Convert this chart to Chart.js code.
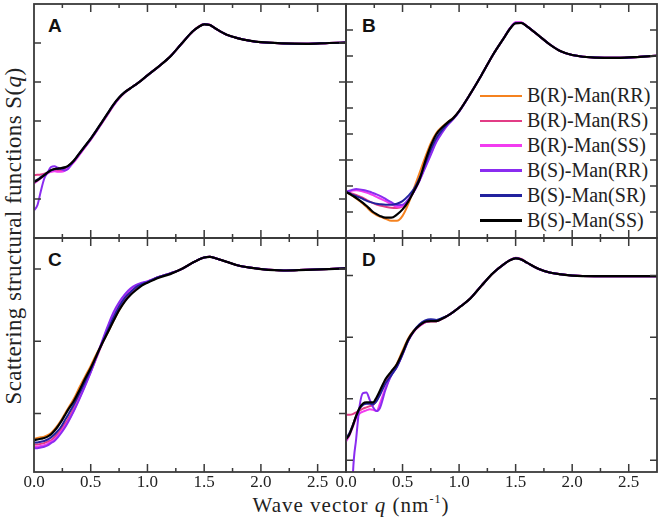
<!DOCTYPE html>
<html>
<head>
<meta charset="utf-8">
<script src="https://cdn.jsdelivr.net/npm/chart.js@4"></script>
<style>
  html, body { margin: 0; padding: 0; background: #fff; overflow: hidden; }
  body { width: 661px; height: 518px; position: relative; font-family: "Liberation Serif", "Times New Roman", serif; color: #222; }
  canvas { position: absolute; }
  .tag { position: absolute; font: bold 19px "Liberation Sans", Arial, sans-serif; line-height: 1; color: #111; }
  #ytitle { position: absolute; left: 12.5px; top: 236px; transform: translate(-50%, -50%) rotate(-90deg);
            white-space: nowrap; font-size: 23px; line-height: 1; letter-spacing: 0.4px; }
  #xtitle { position: absolute; left: 351px; top: 495px; transform: translateX(-50%);
            white-space: nowrap; font-size: 21px; line-height: 1; letter-spacing: 1px; }
  #xtitle sup { font-size: 12px; vertical-align: 0; position: relative; top: -9px; }
  #legend { position: absolute; left: 480px; top: 83.5px; }
  .row { display: flex; align-items: center; height: 24.9px; font-size: 20px; white-space: nowrap; }
  .row span.ln { display: inline-block; width: 42px; height: 2.5px; margin-right: 5px; }
</style>
</head>
<body>
<div class="tag" style="left:48px; top:15.5px">A</div>
<div class="tag" style="left:362px; top:15.5px">B</div>
<div class="tag" style="left:48px; top:250px">C</div>
<div class="tag" style="left:362px; top:250px">D</div>
<div id="ytitle">Scattering structural functions S(<i>q</i>)</div>
<div id="xtitle">Wave vector <i>q</i> (nm<sup>-1</sup>)</div>
<div id="legend"></div>

<script>
// wave vector grid (nm^-1)
var qGrid = [0, 0.03, 0.06, 0.09, 0.12, 0.15, 0.18, 0.21, 0.24, 0.27, 0.30,
  0.35, 0.40, 0.45, 0.50, 0.55, 0.60, 0.65, 0.70, 0.75, 0.80, 0.85, 0.90, 0.95, 1.00,
  1.10, 1.20, 1.30, 1.40, 1.45, 1.50, 1.55, 1.60, 1.70, 1.80, 1.90, 2.00, 2.20, 2.40, 2.60, 2.75];

var nomiSerie = ["B(R)-Man(RR)", "B(R)-Man(RS)", "B(R)-Man(SS)", "B(S)-Man(RR)", "B(S)-Man(SR)", "B(S)-Man(SS)"];
var coloriSerie = ["#f5821f", "#e23c86", "#f23cf0", "#8a2cf0", "#22229e", "#000000"];

// panel A
var A_rRR = [1.44,1.49,1.55,1.62,1.68,1.73,1.76,1.77,1.78,1.80,1.84, 1.97,2.16,2.35,2.54,2.75,2.97,3.19,3.41,3.59,3.73,3.84,3.94,4.05,4.17, 4.40,4.65,4.98,5.30, 5.41,5.48,5.46,5.37, 5.21,5.12,5.06,5.02, 4.99,4.98,5.00,5.01];
var A_rRS = [1.61,1.62,1.63,1.65,1.68,1.71,1.72,1.73,1.74,1.76,1.81, 1.95,2.14,2.33,2.52,2.73,2.95,3.17,3.39,3.58,3.73,3.84,3.94,4.05,4.17, 4.40,4.65,4.98,5.30, 5.42,5.49,5.47,5.37, 5.21,5.12,5.06,5.02, 4.99,4.98,5.00,5.01];
var A_rSS = [1.40,1.46,1.53,1.60,1.66,1.70,1.71,1.70,1.70,1.72,1.79, 1.94,2.13,2.33,2.53,2.74,2.96,3.18,3.40,3.59,3.73,3.84,3.94,4.05,4.17, 4.40,4.65,4.98,5.30, 5.41,5.48,5.46,5.37, 5.21,5.12,5.06,5.02, 4.99,4.98,5.00,5.01];
var A_sRR = [0.71,0.84,1.20,1.52,1.68,1.82,1.84,1.80,1.77,1.73,1.77, 1.97,2.15,2.34,2.53,2.74,2.96,3.18,3.40,3.59,3.73,3.84,3.94,4.05,4.17, 4.40,4.65,4.98,5.30, 5.41,5.48,5.46,5.37, 5.21,5.12,5.06,5.02, 4.99,4.98,5.00,5.01];
var A_sSR = [1.45,1.50,1.56,1.62,1.68,1.73,1.76,1.77,1.78,1.80,1.84, 1.97,2.17,2.36,2.55,2.76,2.98,3.20,3.42,3.60,3.74,3.84,3.94,4.05,4.17, 4.40,4.65,4.98,5.30, 5.41,5.48,5.46,5.37, 5.21,5.12,5.06,5.02, 4.99,4.98,5.00,5.01];
var A_sSS = [1.43,1.48,1.54,1.61,1.68,1.74,1.77,1.78,1.79,1.81,1.85, 1.98,2.17,2.36,2.55,2.76,2.98,3.20,3.42,3.60,3.74,3.84,3.94,4.05,4.17, 4.40,4.65,4.98,5.30, 5.41,5.48,5.46,5.37, 5.21,5.12,5.06,5.02, 4.99,4.98,5.00,5.01];

// panel B
var B_rRR = [1.77,1.70,1.62,1.52,1.42,1.32,1.20,1.07,0.96,0.88,0.82, 0.74,0.66,0.66,0.85,1.30,1.90,2.50,3.10,3.65,4.05,4.28,4.46,4.63,4.88, 5.55,6.28,7.05,7.72, 8.05,8.26,8.27,8.14, 7.80,7.45,7.18,7.04, 6.94,6.93,6.97,7.01];
var B_rRS = [1.77,1.74,1.70,1.66,1.60,1.54,1.47,1.40,1.34,1.29,1.25, 1.20,1.16,1.15,1.22,1.45,1.80,2.25,2.80,3.35,3.85,4.15,4.40,4.60,4.88, 5.55,6.28,7.05,7.72, 8.06,8.28,8.29,8.14, 7.80,7.45,7.18,7.04, 6.94,6.93,6.97,7.01];
var B_rSS = [1.77,1.80,1.83,1.84,1.82,1.79,1.75,1.70,1.65,1.58,1.52, 1.42,1.30,1.20,1.22,1.45,1.78,2.22,2.75,3.25,3.75,4.08,4.36,4.58,4.86, 5.55,6.28,7.05,7.72, 8.07,8.30,8.30,8.15, 7.80,7.45,7.18,7.04, 6.94,6.93,6.97,7.01];
var B_sRR = [1.77,1.82,1.86,1.88,1.87,1.85,1.82,1.78,1.73,1.68,1.62, 1.50,1.38,1.27,1.28,1.48,1.78,2.20,2.70,3.20,3.70,4.05,4.35,4.58,4.86, 5.55,6.28,7.05,7.72, 8.06,8.28,8.28,8.14, 7.80,7.45,7.18,7.04, 6.94,6.93,6.97,7.01];
var B_sSR = [1.77,1.72,1.66,1.61,1.56,1.50,1.44,1.39,1.35,1.32,1.30, 1.28,1.28,1.32,1.42,1.62,1.88,2.30,2.85,3.40,3.85,4.15,4.40,4.60,4.87, 5.55,6.28,7.05,7.72, 8.05,8.26,8.27,8.14, 7.80,7.45,7.18,7.04, 6.94,6.93,6.97,7.01];
var B_sSS = [1.77,1.70,1.62,1.54,1.45,1.35,1.24,1.12,1.00,0.92,0.85, 0.78,0.78,0.90,1.10,1.40,1.80,2.25,2.95,3.55,4.00,4.25,4.45,4.62,4.88, 5.55,6.28,7.05,7.72, 8.05,8.26,8.27,8.14, 7.80,7.45,7.18,7.04, 6.94,6.93,6.97,7.01];

// panel C
var C_rRR = [0.65,0.66,0.67,0.68,0.70,0.73,0.78,0.84,0.91,0.99,1.07, 1.20,1.36,1.51,1.66,1.82,1.97,2.12,2.28,2.43,2.56,2.66,2.73,2.78,2.82, 2.89,2.94,3.00,3.09, 3.13,3.16,3.17,3.15, 3.10,3.05,3.02,3.00, 2.98,2.99,3.00,3.01];
var C_rRS = [0.57,0.57,0.58,0.59,0.61,0.63,0.67,0.72,0.78,0.85,0.92, 1.07,1.24,1.41,1.58,1.77,1.96,2.14,2.31,2.46,2.58,2.67,2.74,2.79,2.82, 2.89,2.94,3.00,3.09, 3.13,3.16,3.17,3.15, 3.10,3.05,3.02,3.00, 2.98,2.99,3.00,3.01];
var C_rSS = [0.54,0.54,0.55,0.56,0.58,0.61,0.64,0.69,0.75,0.82,0.89, 1.04,1.21,1.39,1.58,1.78,1.99,2.19,2.38,2.52,2.63,2.71,2.77,2.80,2.83, 2.89,2.94,3.00,3.09, 3.13,3.16,3.17,3.15, 3.10,3.05,3.02,3.00, 2.98,2.99,3.00,3.01];
var C_sRR = [0.52,0.52,0.53,0.54,0.56,0.59,0.62,0.67,0.73,0.80,0.88, 1.03,1.20,1.38,1.57,1.78,2.00,2.21,2.40,2.54,2.65,2.73,2.78,2.81,2.83, 2.89,2.94,3.00,3.09, 3.13,3.16,3.17,3.15, 3.10,3.05,3.02,3.00, 2.98,2.99,3.00,3.01];
var C_sSR = [0.60,0.60,0.61,0.62,0.64,0.67,0.71,0.76,0.82,0.90,0.98, 1.12,1.28,1.44,1.61,1.79,1.97,2.15,2.33,2.48,2.60,2.68,2.75,2.79,2.82, 2.89,2.94,3.00,3.09, 3.13,3.16,3.17,3.15, 3.10,3.05,3.02,3.00, 2.98,2.99,3.00,3.01];
var C_sSS = [0.63,0.64,0.65,0.66,0.68,0.71,0.76,0.82,0.89,0.97,1.05, 1.17,1.32,1.48,1.63,1.80,1.97,2.12,2.28,2.43,2.55,2.64,2.71,2.77,2.81, 2.88,2.93,3.00,3.09, 3.13,3.16,3.17,3.15, 3.10,3.05,3.02,3.00, 2.98,2.99,3.00,3.01];

// panel D
var D_rRR = [1.35,1.43,1.57,1.72,1.84,1.91,1.93,1.93,1.93,2.00,2.11, 2.30,2.43,2.57,2.78,2.98,3.11,3.19,3.24,3.26,3.26,3.30,3.35,3.41,3.48, 3.63,3.84,4.04,4.19, 4.25,4.28,4.26,4.21, 4.11,4.05,4.02,4.00, 3.99,3.99,3.99,3.99];
var D_rRS = [1.74,1.74,1.75,1.78,1.81,1.84,1.86,1.88,1.90,1.97,2.08, 2.28,2.42,2.55,2.74,2.95,3.09,3.18,3.24,3.26,3.26,3.30,3.35,3.41,3.48, 3.63,3.84,4.04,4.19, 4.25,4.29,4.27,4.21, 4.11,4.05,4.02,4.00, 3.99,3.99,3.99,3.99];
var D_rSS = [1.30,1.40,1.54,1.68,1.76,1.79,1.81,1.83,1.82,1.80,1.92, 2.18,2.38,2.52,2.72,2.94,3.09,3.18,3.24,3.26,3.26,3.30,3.35,3.41,3.48, 3.63,3.84,4.04,4.19, 4.25,4.28,4.26,4.21, 4.11,4.05,4.02,4.00, 3.99,3.99,3.99,3.99];
var D_sRR = [-3.00,-1.40,0.72,1.35,1.88,2.09,2.10,1.98,1.86,1.80,1.85, 2.15,2.38,2.52,2.73,2.95,3.10,3.20,3.26,3.28,3.27,3.30,3.35,3.41,3.48, 3.63,3.84,4.04,4.19, 4.25,4.28,4.26,4.21, 4.11,4.05,4.02,4.00, 3.99,3.99,3.99,3.99];
var D_sSR = [1.36,1.44,1.57,1.72,1.84,1.90,1.92,1.92,1.91,1.96,2.06, 2.25,2.38,2.52,2.72,2.94,3.10,3.21,3.27,3.29,3.28,3.31,3.35,3.41,3.48, 3.63,3.84,4.04,4.19, 4.25,4.28,4.26,4.21, 4.11,4.05,4.02,4.00, 3.99,3.99,3.99,3.99];
var D_sSS = [1.34,1.42,1.56,1.72,1.85,1.92,1.94,1.94,1.94,2.02,2.13, 2.32,2.44,2.56,2.75,2.96,3.10,3.19,3.25,3.26,3.26,3.30,3.35,3.41,3.48, 3.63,3.84,4.04,4.19, 4.25,4.28,4.26,4.21, 4.11,4.05,4.02,4.00, 3.99,3.99,3.99,3.99];

// x tick marks and per-panel y tick marks
var xTacche = [0.25, 0.5, 0.75, 1.0, 1.25, 1.5, 1.75, 2.0, 2.25, 2.5];
var yTaccheA = [1, 2, 3, 4, 5];
var yTaccheB = [1, 2, 3, 4, 5, 6, 7, 8];
var yTaccheC = [1, 2, 3];
var yTaccheD = [1, 2, 3, 4];

// draws the box and the inward ticks
var cornice = {
    id: 'cornice',
    afterDatasetsDraw(chart, args, opts) {
        const ctx = chart.ctx;
        const a = chart.chartArea;
        const sx = chart.scales.x, sy = chart.scales.y;
        ctx.save();
        ctx.strokeStyle = "#3a3a3a";
        ctx.lineWidth = 1.5;
        ctx.beginPath();
        xTacche.forEach(v => {
            const px = sx.getPixelForValue(v);
            const len = (Math.round(v * 100) % 50 === 0) ? 8 : 4;
            ctx.moveTo(px, a.bottom); ctx.lineTo(px, a.bottom - len);
            ctx.moveTo(px, a.top); ctx.lineTo(px, a.top + len);
        });
        opts.yTicks.forEach(v => {
            const py = sy.getPixelForValue(v);
            ctx.moveTo(a.left, py); ctx.lineTo(a.left + 7, py);
            ctx.moveTo(a.right, py); ctx.lineTo(a.right - 7, py);
        });
        ctx.stroke();
        ctx.lineWidth = 1.8;
        ctx.strokeRect(a.left, a.top, a.right - a.left, a.bottom - a.top);
        ctx.restore();
    }
};

function creaPannello(plot, serie, yMin, yMax, yTicks, conAsse){
    const padL = 24, padR = 20, padT = 6;
    const asseH = 37;
    const canvas = document.createElement("canvas");
    const w = plot.right - plot.left + padL + padR;
    const h = Math.round(plot.bottom - plot.top + padT + (conAsse ? asseH : 6));
    canvas.width = w;
    canvas.height = h;
    canvas.style.left = (plot.left - padL) + "px";
    canvas.style.top = (plot.top - padT) + "px";
    canvas.style.width = w + "px";
    canvas.style.height = h + "px";
    document.body.appendChild(canvas);

    const datasets = serie.map((valori, i) => ({
        label: nomiSerie[i],
        data: qGrid.map((q, k) => ({x: q, y: valori[k]})),
        borderColor: coloriSerie[i],
        borderWidth: i === 5 ? 2.2 : 2,
        pointRadius: 0,
        fill: false,
        cubicInterpolationMode: 'monotone',
        order: 5 - i
    }));

    const asseX = {
        type: 'linear',
        min: 0,
        max: 2.75,
        display: conAsse,
        grid: { display: false, drawTicks: false },
        border: { display: false },
        ticks: {
            stepSize: 0.5,
            includeBounds: false,
            autoSkip: false,
            maxRotation: 0,
            padding: 0,
            color: "#222",
            font: { family: "'Liberation Serif', 'Times New Roman', serif", size: 17 },
            callback: v => v.toFixed(1)
        }
    };
    if (conAsse){
        asseX.afterFit = s => { s.height = asseH; };
    }

    return new Chart(canvas.getContext("2d"), {
        type: 'line',
        data: { datasets: datasets },
        options: {
            responsive: false,
            animation: false,
            devicePixelRatio: 1,
            layout: { padding: { left: padL, right: padR, top: padT, bottom: conAsse ? 0 : 6 } },
            plugins: {
                legend: { display: false },
                tooltip: { enabled: false },
                cornice: { yTicks: yTicks }
            },
            scales: {
                x: asseX,
                y: {
                    type: 'linear',
                    min: yMin,
                    max: yMax,
                    display: false
                }
            }
        },
        plugins: [cornice]
    });
}

function popolaLegenda(){
    var box = document.getElementById("legend");
    for (var i = 0; i < nomiSerie.length; i++){
        var riga = document.createElement("div");
        riga.className = "row";
        var linea = document.createElement("span");
        linea.className = "ln";
        linea.style.background = coloriSerie[i];
        riga.appendChild(linea);
        riga.appendChild(document.createTextNode(nomiSerie[i]));
        box.appendChild(riga);
    }
}

document.addEventListener("DOMContentLoaded", () => {
    creaPannello({left: 34, right: 346, top: 4, bottom: 237.5},
        [A_rRR, A_rRS, A_rSS, A_sRR, A_sSR, A_sSS], 0, 6, yTaccheA, false);
    creaPannello({left: 346, right: 657, top: 4, bottom: 237.5},
        [B_rRR, B_rRS, B_rSS, B_sRR, B_sSR, B_sSS], 0, 9, yTaccheB, false);
    creaPannello({left: 34, right: 346, top: 237.5, bottom: 471},
        [C_rRR, C_rRS, C_rSS, C_sRR, C_sSR, C_sSS], 0.19, 3.43, yTaccheC, true);
    creaPannello({left: 346, right: 657, top: 237.5, bottom: 471},
        [D_rRR, D_rRS, D_rSS, D_sRR, D_sSR, D_sSS], 0.81, 4.61, yTaccheD, true);
    popolaLegenda();
});
</script>
</body>
</html>
